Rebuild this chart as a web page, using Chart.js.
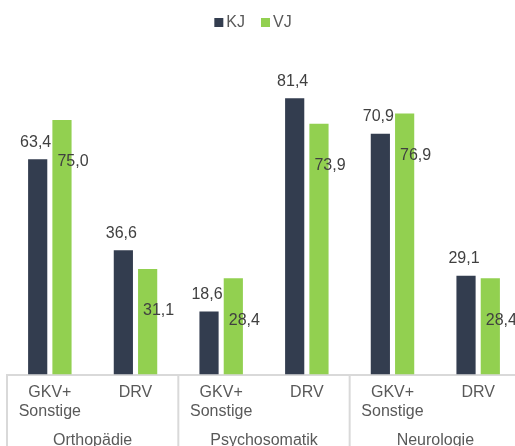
<!DOCTYPE html>
<html>
<head>
<meta charset="utf-8">
<script src="https://cdn.jsdelivr.net/npm/chart.js@4.4.0/dist/chart.umd.min.js"></script>
<style>
  html, body { margin: 0; padding: 0; background: #fff; overflow: hidden; }
  #wrap { width: 521px; height: 446px; }
</style>
</head>
<body>
<div id="wrap"><canvas id="chart"></canvas></div>
<script>
// Daten
const categories = [['GKV+', 'Sonstige'], 'DRV', ['GKV+', 'Sonstige'], 'DRV', ['GKV+', 'Sonstige'], 'DRV'];
const groups = ['Orthopädie', 'Psychosomatik', 'Neurologie'];
const seriesNames = ['KJ', 'VJ'];
const kjValues = [63.4, 36.6, 18.6, 81.4, 70.9, 29.1];
const vjValues = [75.0, 31.1, 28.4, 73.9, 76.9, 28.4];

const FONT = 'Liberation Sans, Arial, sans-serif';
const COLORS = ['#333d4f', '#92d050'];
const fmt = v => v.toFixed(1).replace('.', ',');

// Werte an den Balken
const valueLabels = {
    id: 'valueLabels',
    afterDatasetsDraw(chart) {
        const ctx = chart.ctx;
        ctx.save();
        ctx.font = '16px ' + FONT;
        ctx.fillStyle = '#404040';
        ctx.textBaseline = 'middle';
        ctx.textAlign = 'center';
        chart.data.datasets.forEach((ds, di) => {
            chart.getDatasetMeta(di).data.forEach((bar, i) => {
                const txt = fmt(ds.data[i]);
                if (di === 0) {
                    ctx.fillText(txt, bar.x - 2, bar.y - 17);
                } else {
                    ctx.fillText(txt, bar.x + 11, bar.y + 42);
                }
            });
        });
        ctx.restore();
    }
};

// Legende oben
const topLegend = {
    id: 'topLegend',
    afterDraw(chart) {
        const ctx = chart.ctx;
        ctx.save();
        ctx.font = '16px ' + FONT;
        ctx.textBaseline = 'middle';
        ctx.textAlign = 'left';
        const widths = seriesNames.map(n => 12 + ctx.measureText(n).width);
        const gap = 16;
        const total = widths.reduce((a, b) => a + b, 0) + gap * (widths.length - 1);
        let x = chart.width / 2 - 7.5 - total / 2;
        seriesNames.forEach((n, i) => {
            ctx.fillStyle = COLORS[i];
            ctx.fillRect(x, 18, 9, 9);
            ctx.fillStyle = '#595959';
            ctx.fillText(n, x + 12, 22.5);
            x += widths[i] + gap;
        });
        ctx.restore();
    }
};

// Trennlinien und Gruppenbeschriftung
const groupAxis = {
    id: 'groupAxis',
    afterDraw(chart) {
        const ctx = chart.ctx;
        const x = chart.scales.x;
        const bottom = chart.chartArea.bottom;
        const step = x.getPixelForValue(1) - x.getPixelForValue(0);
        ctx.save();
        ctx.strokeStyle = '#d9d9d9';
        ctx.lineWidth = 2;
        ctx.font = '16px ' + FONT;
        ctx.fillStyle = '#595959';
        ctx.textAlign = 'center';
        ctx.textBaseline = 'middle';
        groups.forEach((g, gi) => {
            const left = x.getPixelForValue(gi * 2) - step / 2;
            ctx.beginPath();
            ctx.moveTo(left, bottom);
            ctx.lineTo(left, chart.height);
            ctx.stroke();
            ctx.fillText(g, left + step, bottom + 66);
        });
        ctx.restore();
    }
};

new Chart(document.getElementById('chart'), {
    type: 'bar',
    data: {
        labels: categories,
        datasets: [{
            label: seriesNames[0],
            data: kjValues,
            backgroundColor: COLORS[0],
            barPercentage: 0.79,
            categoryPercentage: 0.567
        }, {
            label: seriesNames[1],
            data: vjValues,
            backgroundColor: COLORS[1],
            barPercentage: 0.79,
            categoryPercentage: 0.567
        }]
    },
    options: {
        responsive: true,
        maintainAspectRatio: false,
        animation: false,
        layout: { padding: { left: 7, right: 0, top: 35, bottom: 17 } },
        scales: {
            x: {
                grid: { display: false, drawTicks: false },
                border: { color: '#d9d9d9', width: 2 },
                ticks: {
                    color: '#595959',
                    font: { family: FONT, size: 16 },
                    padding: 8,
                    maxRotation: 0,
                    autoSkip: false
                }
            },
            y: {
                display: false,
                min: 0,
                max: 100
            }
        },
        plugins: {
            legend: { display: false },
            tooltip: { enabled: false }
        }
    },
    plugins: [valueLabels, topLegend, groupAxis]
});
</script>
</body>
</html>
